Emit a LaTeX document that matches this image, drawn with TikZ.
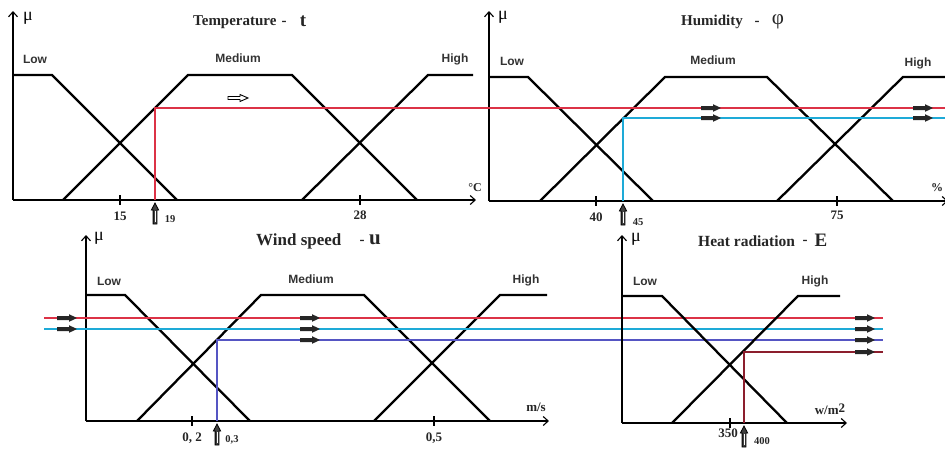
\documentclass[tikz,border=0pt]{standalone}
\usepackage{fontspec}
\setmainfont{Liberation Serif}
\newfontfamily\lsans{Liberation Sans}
\usetikzlibrary{arrows.meta}
\definecolor{cred}{RGB}{220,50,70}
\definecolor{ccyan}{RGB}{30,170,215}
\definecolor{cblue}{RGB}{85,85,195}
\definecolor{cmaroon}{RGB}{140,30,45}
\begin{document}
\begin{tikzpicture}[x=1pt,y=-1pt,
  mf/.style={line width=2.3pt, line join=miter, black},
  axis/.style={line width=1.3pt, -{Straight Barb[length=5pt,width=9pt,line width=1.1pt]}},
  tickl/.style={line width=1.2pt},
  cl/.style={line width=1.5pt},
  sl/.style={font=\lsans\bfseries\fontsize{12}{14}\selectfont, text=black!80, inner sep=0pt},
  num/.style={font=\bfseries\fontsize{13}{15}\selectfont, inner sep=0pt, text=black!85},
  sm/.style={font=\bfseries\fontsize{10.5}{12}\selectfont, inner sep=0pt, text=black!85},
  mu/.style={font=\fontsize{18}{20}\selectfont, inner sep=0pt},
  ttl/.style={font=\bfseries\fontsize{15}{17}\selectfont, inner sep=0pt, text=black!85},
  var/.style={font=\bfseries\fontsize{19}{21}\selectfont, inner sep=0pt, text=black!85},
  rarr/.pic={\fill[black!85] (-10,-2) -- (2,-2) -- (2,-3.8) -- (10,0) -- (2,3.8) -- (2,2) -- (-10,2) -- cycle;},
  harr/.pic={\draw[line width=0.9pt, fill=white] (-10,-1.5) -- (2,-1.5) -- (2,-3.5) -- (10,0) -- (2,3.5) -- (2,1.5) -- (-10,1.5) -- cycle;},
  uarr/.pic={\draw[line width=0.8pt, fill=black!75] (0,0) -- (3.6,7) -- (1.9,7) -- (1.9,21) -- (-1.9,21) -- (-1.9,7) -- (-3.6,7) -- cycle;
             \draw[white, line width=0.6pt] (0,8) -- (0,19);}
]
\useasboundingbox (0,0) rectangle (945,448);
\fill[white] (0,0) rectangle (945,448);

% ---------------- Panel 1: Temperature ----------------
\draw[axis] (13,200) -- (13,11);
\draw[axis] (13,200) -- (476,200);
\draw[mf] (13,75) -- (52,75) -- (177,200);
\draw[mf] (63,200) -- (188,75) -- (292,75) -- (417,200);
\draw[mf] (302,200) -- (428,75) -- (473,75);
\draw[tickl] (120,195) -- (120,205);
\draw[tickl] (360,195) -- (360,205);
\pic at (238,98) {harr};
\node[mu] (mu1) at (28,18) {μ};
\node[ttl, anchor=west] (T1) at (193,22) {Temperature};
\node[ttl] (d1) at (284,23) {-};
\node[var] (v1) at (303,21) {t};
\node[sl] (l1) at (35,59) {Low};
\node[sl] (m1) at (238,58) {Medium};
\node[sl] (h1) at (455,59) {High};
\node[num] (n15) at (120,216) {15};
\node[num] (n28) at (360,215) {28};
\node[sm] (n19) at (170,219) {19};
\node[sm, font=\bfseries\fontsize{12}{14}\selectfont] (uC) at (475,188) {°C};

% ---------------- Panel 2: Humidity ----------------
\draw[axis] (489,201) -- (489,11);
\draw[axis] (489,201) -- (948,201);
\draw[mf] (489,77) -- (528,77) -- (653,201);
\draw[mf] (540,201) -- (665,77) -- (767,77) -- (893,201);
\draw[mf] (777,201) -- (903,77) -- (946,77);
\draw[tickl] (596,196) -- (596,206);
\draw[tickl] (837,196) -- (837,206);
\draw[cred, cl] (155,200) -- (155,108) -- (946,108);
\draw[ccyan, cl] (623,201) -- (623,118) -- (946,118);
\pic at (155,203) {uarr};
\pic at (711,108) {rarr};
\pic at (711,118) {rarr};
\pic at (923,108) {rarr};
\pic at (923,118) {rarr};
\pic at (623,204) {uarr};
\node[mu] (mu2) at (503,17) {μ};
\node[ttl, anchor=west] (T2) at (681,22) {Humidity};
\node[ttl] (d2) at (757,23) {-};
\node[var, font=\fontsize{21}{23}\selectfont] (v2) at (778,22) {φ};
\node[sl] (l2) at (512,61) {Low};
\node[sl] (m2) at (713,60) {Medium};
\node[sl] (h2) at (918,63) {High};
\node[num] (n40) at (596,217) {40};
\node[sm] (n45) at (638,222) {45};
\node[num] (n75) at (837,215) {75};
\node[sm, font=\bfseries\fontsize{12}{14}\selectfont] (pc) at (937,188) {\%};

% ---------------- Panel 3: Wind speed ----------------
\draw[axis] (86,421) -- (86,235);
\draw[axis] (86,421) -- (549,421);
\draw[mf] (86,295) -- (125,295) -- (250,421);
\draw[mf] (137,421) -- (261,295) -- (364,295) -- (490,421);
\draw[mf] (374,421) -- (500,295) -- (547,295);
\draw[tickl] (192,416) -- (192,426);
\draw[tickl] (434,416) -- (434,426);
\draw[cred, cl] (44,318) -- (883,318);
\draw[ccyan, cl] (44,329) -- (883,329);
\draw[cblue, cl] (217,421) -- (217,340) -- (883,340);
\pic at (67,318) {rarr};
\pic at (67,329) {rarr};
\pic at (310,318) {rarr};
\pic at (310,329) {rarr};
\pic at (310,340) {rarr};
\pic at (217,424) {uarr};
\node[mu] (mu3) at (99,238) {μ};
\node[ttl, anchor=west, font=\bfseries\fontsize{17}{19}\selectfont] (T3) at (256,241) {Wind speed};
\node[ttl] (d3) at (362,242) {-};
\node[var, font=\bfseries\fontsize{21}{23}\selectfont] (v3) at (375,240) {u};
\node[sl] (l3) at (109,281) {Low};
\node[sl] (m3) at (311,279) {Medium};
\node[sl] (h3) at (526,280) {High};
\node[num] (n02) at (192,438) {0, 2};
\node[sm] (n03) at (232,440) {0,3};
\node[num] (n05) at (434,438) {0,5};
\node[num] (ms) at (536,407) {m/s};

% ---------------- Panel 4: Heat radiation ----------------
\draw[axis] (622,423) -- (622,235);
\draw[axis] (622,423) -- (847,423);
\draw[mf] (622,296) -- (662,296) -- (787,423);
\draw[mf] (672,423) -- (798,296) -- (840,296);
\draw[tickl] (730,418) -- (730,428);
\draw[cmaroon, cl] (744,423) -- (744,352) -- (883,352);
\pic at (865,318) {rarr};
\pic at (865,329) {rarr};
\pic at (865,340) {rarr};
\pic at (865,352) {rarr};
\pic at (744,426) {uarr};
\node[mu] (mu4) at (636,239) {μ};
\node[ttl, anchor=west, font=\bfseries\fontsize{15.5}{18}\selectfont] (T4) at (698,241) {Heat radiation};
\node[ttl] (d4) at (805,242) {-};
\node[var] (v4) at (821,240) {E};
\node[sl] (l4) at (645,281) {Low};
\node[sl] (h4) at (815,281) {High};
\node[num] (n350) at (728,433) {350};
\node[sm] (n400) at (762,441) {400};
\node[num] (wm) at (830,409) {w/m\raisebox{2pt}{2}};
\end{tikzpicture}
\end{document}
